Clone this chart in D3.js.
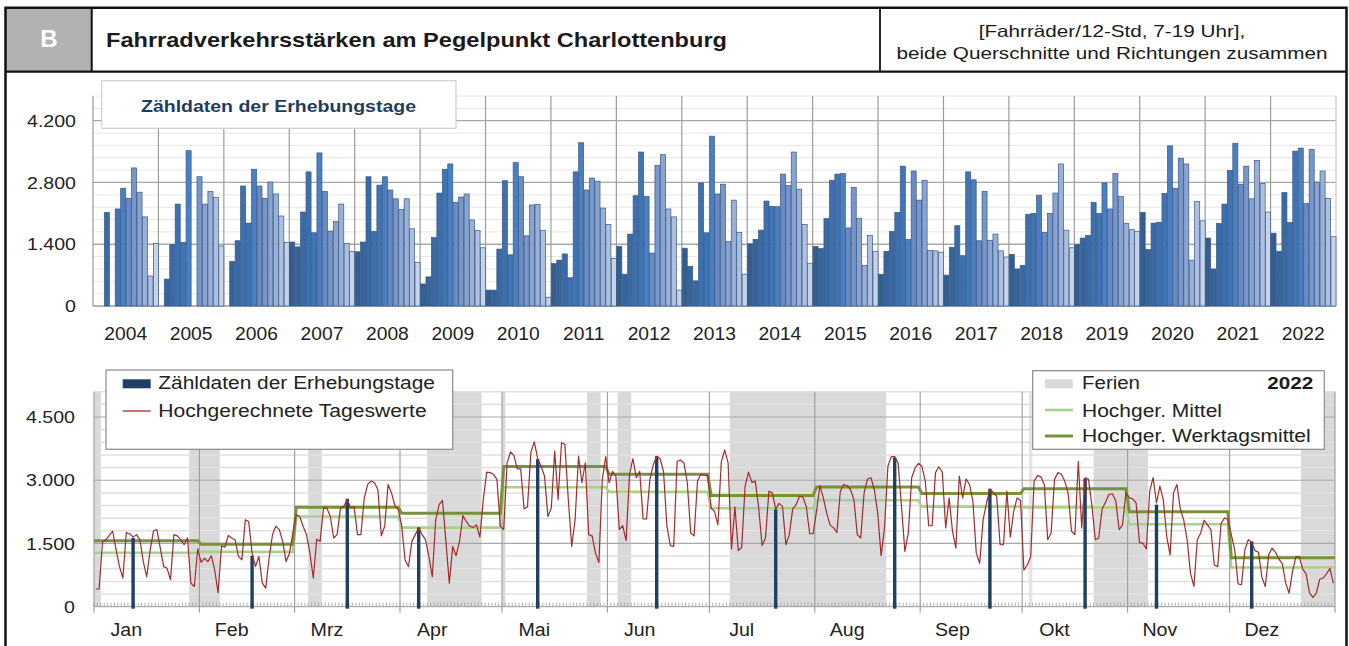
<!DOCTYPE html>
<html>
<head>
<meta charset="utf-8">
<script src="https://cdn.jsdelivr.net/npm/d3@7"></script>
<style>
	body { margin: 0; background: #fff; }
	svg { display: block; font-family: "Liberation Sans", Arial, sans-serif; }
</style>
</head>
<body>
<script>

// ---- Daten oben: Zähldaten der Erhebungstage, je Jahr Jan..Dez (null = keine Zählung)
var jahre = ['2004','2005','2006','2007','2008','2009','2010','2011','2012','2013',
	'2014','2015','2016','2017','2018','2019','2020','2021','2022'];

var j2004 = [null, null, 2120, null, 2200, 2670, 2440, 3130, 2580, 2020, 680, 1420];
var j2005 = [null, 610, 1390, 2310, 1440, 3520, null, 2930, 2310, 2600, 2460, 1360];
var j2006 = [null, 1010, 1480, 2720, 1880, 3100, 2720, 2440, 2810, 2540, 2040, 1440];
var j2007 = [1450, 1340, 2130, 3040, 1660, 3470, 2600, 1700, 1920, 2310, 1420, 1230];
var j2008 = [1230, 1450, 2930, 1690, 2740, 2930, 2630, 2430, 2190, 2430, 1750, 990];
var j2009 = [500, 660, 1550, 2560, 3100, 3220, 2350, 2470, 2540, 1950, 1710, 1320];
var j2010 = [360, 360, 1290, 2840, 1160, 3250, 2930, 1590, 2290, 2300, 1710, 200];
var j2011 = [960, 1040, 1180, 640, 3040, 3700, 2630, 2900, 2830, 2220, 1850, 1080];
var j2012 = [1350, 720, 1630, 2500, 3490, 2480, 1200, 3190, 3430, 2200, 2020, 360];
var j2013 = [1310, 900, 570, 2790, 1660, 3850, 2540, 2760, 1460, 2400, 1670, 720];
var j2014 = [1410, 1510, 1720, 2380, 2260, 2250, 2990, 2730, 3490, 2650, 1850, 970];
var j2015 = [1350, 1300, 1980, 2850, 2990, 3000, 1770, 2690, 1980, 920, 1600, 1240];
var j2016 = [720, 1240, 1690, 2120, 3170, 1510, 3060, 2400, 2850, 1260, 1250, 1220];
var j2017 = [700, 1330, 1820, 1140, 3040, 2860, 1480, 2600, 1490, 1630, 1250, 1110];
var j2018 = [1170, 840, 920, 2080, 2100, 2510, 1670, 2100, 2560, 3220, 1720, 1320];
var j2019 = [1390, 1540, 1600, 2350, 2100, 2790, 2200, 3000, 2480, 1870, 1730, 1690];
var j2020 = [2120, 1280, 1880, 1900, 2550, 3630, 2670, 3350, 3220, 1040, 2370, 1930];
var j2021 = [1540, 840, 1870, 2310, 3070, 3690, 2760, 3170, 2430, 3300, 2780, 2130];
var j2022 = [1650, 1240, 2570, 1890, 3510, 3580, 2320, 3550, 2810, 3060, 2440, 1570];

var jahresreihen = [j2004, j2005, j2006, j2007, j2008, j2009, j2010, j2011, j2012, j2013,
	j2014, j2015, j2016, j2017, j2018, j2019, j2020, j2021, j2022];

var yTicksOben = [0, 1400, 2800, 4200];

// ---- Daten unten: 2022
var monate = ['Jan','Feb','Mrz','Apr','Mai','Jun','Jul','Aug','Sep','Okt','Nov','Dez'];
var yTicksUnten = [0, 1500, 3000, 4500];

// hochgerechnete Tageswerte
var tJan = [420,420,1530,1590,1690,1790,1350,950,680,1760,1730,1650,1710,1590,1070,710,1330,1800,1830,1390,950,910,640,1710,1680,1590,1470,1630,560,480,1370];
var tFeb = [1050,1150,1070,1210,870,330,1440,1410,1690,1630,1590,1190,1110,2060,2020,1270,950,1190,560,440,1150,1710,1910,1830,1550,1070,1270,1750];
var tMrz = [2180,2140,1910,1710,1270,680,1600,1550,2340,2340,2140,1630,1710,2340,2380,2540,2340,2370,1710,1710,2580,2900,2980,2940,2780,1680,1910,2900,2700,2400,2300];
var tApr = [1910,1110,950,1550,1710,1870,1710,1590,1190,710,2060,2420,2520,1550,560,1430,1210,1550,2160,2020,1910,1880,1940,1650,2540,3190,3180,3140,3020,1910];
var tMai = [1830,3410,3670,3590,3270,3270,2320,2370,3670,3910,3510,3330,3100,2140,2340,3690,2540,3890,3850,2540,1430,2060,3570,2940,3410,1710,1680,1270,1050,3020,3560];
var tJun = [2940,3210,3100,1830,1920,1570,3140,3510,3060,3210,2080,2080,3020,3370,3570,3510,3210,1910,1450,1430,3450,3480,3410,2940,1750,1680,2980,3140,3120,3110];
var tJul = [2340,2260,1940,3430,3720,3410,1370,2370,1330,1410,2860,3190,2950,2980,2340,1450,1630,2740,2700,2320,2450,2380,1470,1710,2320,2420,2620,2600,2370,1730,1730];
var tAug = [2260,2870,2580,2220,1940,1870,1760,2740,2900,2870,2780,2540,1710,1630,2700,3030,3060,2780,2220,1210,1870,3330,3560,3560,3410,2380,1310,1750,3060,3290,3400];
var tSep = [3330,2980,1920,1920,3180,3320,3190,1870,2580,1790,1390,3100,2580,3030,2900,2500,1270,1030,2060,2460,2780,2710,2620,1470,1470,2740,1650,2260,2580,2520];
var tOkt = [870,990,1190,2980,3110,3080,2900,1590,1750,3020,3180,3140,2980,2700,1790,1710,3450,1870,3060,3020,2400,1590,1630,2320,2480,2660,2680,2520,1830,1940,2710];
var tNov = [2580,2560,2460,1520,1510,1370,2740,3060,2460,2860,2540,1670,1230,2700,2900,2320,2060,1590,790,480,1590,1750,2050,1940,1830,990,950,1980,2100,2080];
var tDez = [1710,1350,540,520,1350,1590,1520,1330,1290,700,480,1230,1390,1290,1130,1020,560,320,830,1190,1180,890,780,330,220,320,650,680,780,910,560];

// Monatsmittel (hochgerechnet)
var mittel = [1280, 1300, 2140, 1875, 2835, 2725, 2335, 2525, 2375, 2355, 1955, 930];
var werktagsmittel = [1565, 1480, 2360, 2215, 3325, 3140, 2640, 2838, 2685, 2800, 2255, 1160];

// Erhebungstage 2022
var zaehltage = ['2022-01-12','2022-02-16','2022-03-16','2022-04-06','2022-05-11','2022-06-15',
	'2022-07-20','2022-08-24','2022-09-21','2022-10-19','2022-11-09','2022-12-07'];
var zaehlwerte = [1630, 1210, 2560, 1880, 3500, 3570, 2310, 3540, 2800, 3040, 2420, 1550];

// Ferien (Ende exklusiv) und Feiertag
var ferien = [['2022-01-01','2022-01-03'], ['2022-01-29','2022-02-07'], ['2022-03-05','2022-03-09'],
	['2022-04-09','2022-04-25'], ['2022-05-01','2022-05-02'], ['2022-05-26','2022-05-30'],
	['2022-06-04','2022-06-08'], ['2022-07-07','2022-08-22'], ['2022-10-22','2022-11-07'],
	['2022-12-22','2023-01-01']];
var feiertage = [['2022-10-03','2022-10-04']];

// month colours, dark -> light
var monatsfarben = ['#335e8d','#36649b','#3a6aa6','#3d70ae','#3f75b5','#4a80c2',
	'#6a8bc2','#7896c9','#8aa4cf','#9bb0d7','#afc0df','#c7d3e8'];

var W = 1349, H = 646;
var de = d3.formatLocale({ decimal: ',', thousands: '.', grouping: [3], currency: ['', '€'] });
var fmt = de.format(',');
var parse = d3.timeParse('%Y-%m-%d');

// widen text a bit (source image is horizontally stretched)
function stretch(sel, k) {
	sel.each(function() {
		var len = this.getComputedTextLength();
		d3.select(this).attr('textLength', len * k).attr('lengthAdjust', 'spacingAndGlyphs');
	});
}
function fit(sel, w) {
	sel.attr('textLength', w).attr('lengthAdjust', 'spacingAndGlyphs');
}

var svg = d3.select('body').append('svg')
	.attr('width', W)
	.attr('height', H);

// ================= header =================
var frameL = 5.5, frameR = 1346.5, frameT = 7.7, headB = 71.7;

svg.append('rect')
	.attr('x', frameL).attr('y', frameT)
	.attr('width', 91.7 - frameL).attr('height', headB - frameT)
	.attr('fill', '#b2b2b2');

svg.append('text')
	.attr('x', 48.8).attr('y', 47)
	.attr('text-anchor', 'middle')
	.attr('font-size', 24).attr('font-weight', 'bold')
	.attr('fill', '#fff')
	.text('B');

svg.append('text')
	.attr('x', 106).attr('y', 47)
	.attr('font-size', 20.5).attr('font-weight', 'bold')
	.attr('fill', '#1a1a1a')
	.text('Fahrradverkehrsstärken am Pegelpunkt Charlottenburg')
	.call(fit, 621);

var unter = svg.append('text')
	.attr('x', 1112).attr('y', 59)
	.attr('text-anchor', 'middle')
	.attr('font-size', 16.5).attr('fill', '#1a1a1a')
	.text('beide Querschnitte und Richtungen zusammen');
var kHead = 431 / unter.node().getComputedTextLength();
unter.call(fit, 431);

svg.append('text')
	.attr('x', 1112).attr('y', 37)
	.attr('text-anchor', 'middle')
	.attr('font-size', 16.5).attr('fill', '#1a1a1a')
	.text('[Fahrräder/12-Std, 7-19 Uhr],')
	.call(stretch, kHead);

// frame lines
var frame = svg.append('g').attr('stroke', '#111').attr('fill', 'none');
frame.append('path')
	.attr('stroke-width', 2.5)
	.attr('d', 'M' + frameL + ',' + (H + 5) + 'V' + frameT + 'H' + frameR + 'V' + (H + 5));
frame.append('line')
	.attr('stroke-width', 2.2)
	.attr('x1', frameL).attr('x2', frameR).attr('y1', headB).attr('y2', headB);
frame.append('line')
	.attr('stroke-width', 2)
	.attr('x1', 91.7).attr('x2', 91.7).attr('y1', frameT).attr('y2', headB);
frame.append('line')
	.attr('stroke-width', 1.8)
	.attr('x1', 880).attr('x2', 880).attr('y1', frameT).attr('y2', headB);

// ================= oberes Diagramm =================
var top0 = 306, top1 = 96;
var xJahr = d3.scaleBand().domain(jahre).range([93, 1336]);
var xMon = d3.scaleBand().domain(d3.range(12)).range([0, xJahr.bandwidth()]);
var yOben = d3.scaleLinear().domain([0, 4760]).range([top0, top1]);

var gTop = svg.append('g');

// minor grid
gTop.append('g').selectAll('line')
	.data(d3.range(280, 4761, 280).filter(function(v) { return v % 1400 != 0; }))
	.enter().append('line')
		.attr('x1', 93).attr('x2', 1336)
		.attr('y1', function(d) { return yOben(d); })
		.attr('y2', function(d) { return yOben(d); })
		.attr('stroke', '#e6e6e6');

gTop.append('g').selectAll('line')
	.data(yTicksOben)
	.enter().append('line')
		.attr('x1', 93).attr('x2', 1336)
		.attr('y1', function(d) { return yOben(d); })
		.attr('y2', function(d) { return yOben(d); })
		.attr('stroke', function(d) { return d == 0 ? '#9a9a9a' : '#a8a8a8'; })
		.attr('stroke-width', 1.3);

// year separators
gTop.append('g').selectAll('line')
	.data(jahre.concat(['end']))
	.enter().append('line')
		.attr('x1', function(d) { return d == 'end' ? 1336 : xJahr(d); })
		.attr('x2', function(d) { return d == 'end' ? 1336 : xJahr(d); })
		.attr('y1', top1).attr('y2', top0)
		.attr('stroke', function(d) { return d == 'end' ? '#c8c8c8' : '#9c9c9c'; })
		.attr('stroke-width', 1.2);

var balken = [];
jahre.forEach(function(j, i) {
	jahresreihen[i].forEach(function(v, m) {
		if (v != null) balken.push({ jahr: j, monat: m, wert: v });
	});
});

gTop.append('g').selectAll('rect')
	.data(balken)
	.enter().append('rect')
		.attr('x', function(d) { return xJahr(d.jahr) + xMon(d.monat) + 0.4; })
		.attr('y', function(d) { return yOben(d.wert); })
		.attr('width', xMon.bandwidth() - 0.4)
		.attr('height', function(d) { return top0 - yOben(d.wert); })
		.attr('fill', function(d) { return monatsfarben[d.monat]; })
		.attr('stroke', '#36598a')
		.attr('stroke-width', 0.7);

// y labels
gTop.append('g').selectAll('text')
	.data(yTicksOben)
	.enter().append('text')
		.attr('x', 76)
		.attr('y', function(d) { return yOben(d); })
		.attr('dy', '0.36em')
		.attr('text-anchor', 'end')
		.attr('font-size', 17).attr('fill', '#222')
		.text(function(d) { return fmt(d); })
		.call(stretch, 1.15);

// year labels
gTop.append('g').selectAll('text')
	.data(jahre)
	.enter().append('text')
		.attr('x', function(d) { return xJahr(d) + xJahr.bandwidth() / 2; })
		.attr('y', 340)
		.attr('text-anchor', 'middle')
		.attr('font-size', 17.5).attr('fill', '#222')
		.text(function(d) { return d; })
		.call(stretch, 1.1);

// legend box
gTop.append('rect')
	.attr('x', 101.7).attr('y', 80.7)
	.attr('width', 354.3).attr('height', 47.6)
	.attr('fill', '#fff')
	.attr('stroke', '#cfcfcf').attr('stroke-width', 1.2);

gTop.append('text')
	.attr('x', 278.5).attr('y', 111.5)
	.attr('text-anchor', 'middle')
	.attr('font-size', 17).attr('font-weight', 'bold')
	.attr('fill', '#1f3d60')
	.text('Zähldaten der Erhebungstage')
	.call(fit, 275);

// ================= unteres Diagramm =================
var bot0 = 606.7, bot1 = 391.7;
var start = new Date(2022, 0, 1), ende = new Date(2023, 0, 1);
var x = d3.scaleTime().domain([start, ende]).range([94, 1335]);
var y = d3.scaleLinear().domain([0, 5100]).range([bot0, bot1]);

var tage = d3.timeDay.range(start, ende);
var tageswerte = [].concat(tJan, tFeb, tMrz, tApr, tMai, tJun, tJul, tAug, tSep, tOkt, tNov, tDez);
var tagesdaten = tage.map(function(t, i) { return { tag: t, wert: tageswerte[i] }; });

function mitte(t) { return d3.timeHour.offset(t, 12); }

var gBot = svg.append('g');

// Ferien
gBot.append('g').selectAll('rect')
	.data(ferien)
	.enter().append('rect')
		.attr('x', function(d) { return x(parse(d[0])); })
		.attr('width', function(d) { return x(parse(d[1])) - x(parse(d[0])); })
		.attr('y', bot1).attr('height', bot0 - bot1)
		.attr('fill', '#d9d9d9');

gBot.append('g').selectAll('rect')
	.data(feiertage)
	.enter().append('rect')
		.attr('x', function(d) { return x(parse(d[0])); })
		.attr('width', function(d) { return x(parse(d[1])) - x(parse(d[0])); })
		.attr('y', bot1).attr('height', bot0 - bot1)
		.attr('fill', '#e6e6e6');

// grid
gBot.append('g').selectAll('line')
	.data(d3.range(300, 5101, 300).filter(function(v) { return v % 1500 != 0; }))
	.enter().append('line')
		.attr('x1', 94).attr('x2', 1335)
		.attr('y1', function(d) { return y(d); })
		.attr('y2', function(d) { return y(d); })
		.attr('stroke', '#e0e0e0')
		.attr('stroke-width', 1.5);

gBot.append('g').selectAll('line')
	.data(yTicksUnten.slice(1))
	.enter().append('line')
		.attr('x1', 94).attr('x2', 1335)
		.attr('y1', function(d) { return y(d); })
		.attr('y2', function(d) { return y(d); })
		.attr('stroke', '#a8a8a8')
		.attr('stroke-width', 1.2);

// month separators
var monatsanfang = d3.timeMonth.range(start, d3.timeDay.offset(ende, 1));
gBot.append('g').selectAll('line')
	.data(monatsanfang)
	.enter().append('line')
		.attr('x1', function(d) { return x(d); })
		.attr('x2', function(d) { return x(d); })
		.attr('y1', bot1).attr('y2', bot0 + 6)
		.attr('stroke', '#9c9c9c')
		.attr('stroke-width', 1.1);

// axis + day ticks
gBot.append('line')
	.attr('x1', 94).attr('x2', 1335)
	.attr('y1', bot0).attr('y2', bot0)
	.attr('stroke', '#9a9a9a');

gBot.append('g').selectAll('line')
	.data(tage)
	.enter().append('line')
		.attr('x1', function(d) { return x(d); })
		.attr('x2', function(d) { return x(d); })
		.attr('y1', bot0 - 4).attr('y2', bot0)
		.attr('stroke', '#a0a0a0')
		.attr('stroke-width', 0.8);

// Monatsmittel als Stufen
function stufen(werte) {
	var pts = [];
	werte.forEach(function(v, m) {
		var a = new Date(2022, m, 1), b = new Date(2022, m + 1, 1);
		pts.push([m == 0 ? a : mitte(a), v]);
		pts.push([m == 11 ? b : d3.timeHour.offset(b, -12), v]);
	});
	return pts;
}

var stufenLinie = d3.line()
	.x(function(d) { return x(d[0]); })
	.y(function(d) { return y(d[1]); });

gBot.append('path')
	.attr('d', stufenLinie(stufen(mittel)))
	.attr('fill', 'none')
	.attr('stroke', '#a9d08e')
	.attr('stroke-width', 2.6);

gBot.append('path')
	.attr('d', stufenLinie(stufen(werktagsmittel)))
	.attr('fill', 'none')
	.attr('stroke', '#76933c')
	.attr('stroke-width', 3);

// Zähldaten der Erhebungstage
gBot.append('g').selectAll('rect')
	.data(zaehltage)
	.enter().append('rect')
		.attr('x', function(d) { return x(mitte(parse(d))) - 1.7; })
		.attr('width', 3.4)
		.attr('y', function(d, i) { return y(zaehlwerte[i]); })
		.attr('height', function(d, i) { return bot0 + 2 - y(zaehlwerte[i]); })
		.attr('fill', '#1f3f63');

// hochgerechnete Tageswerte
var tagLinie = d3.line()
	.x(function(d) { return x(mitte(d.tag)); })
	.y(function(d) { return y(d.wert); });

gBot.append('path')
	.attr('d', tagLinie(tagesdaten))
	.attr('fill', 'none')
	.attr('stroke', '#a52a2a')
	.attr('stroke-width', 1.2)
	.attr('stroke-linejoin', 'round');

// y labels
gBot.append('g').selectAll('text')
	.data(yTicksUnten)
	.enter().append('text')
		.attr('x', 75)
		.attr('y', function(d) { return y(d); })
		.attr('dy', '0.36em')
		.attr('text-anchor', 'end')
		.attr('font-size', 17).attr('fill', '#222')
		.text(function(d) { return fmt(d); })
		.call(stretch, 1.15);

// month labels
gBot.append('g').selectAll('text')
	.data(monate)
	.enter().append('text')
		.attr('x', function(d, i) { return x(new Date(2022, i, 10, 12)); })
		.attr('y', 636)
		.attr('text-anchor', 'middle')
		.attr('font-size', 17.5).attr('fill', '#222')
		.text(function(d) { return d; })
		.call(stretch, 1.12);

// legend left
var lg1 = gBot.append('g');
lg1.append('rect')
	.attr('x', 106).attr('y', 370)
	.attr('width', 346.7).attr('height', 79.3)
	.attr('fill', '#fff')
	.attr('stroke', '#8a8a8a').attr('stroke-width', 1.2);
lg1.append('rect')
	.attr('x', 122.7).attr('y', 379.3)
	.attr('width', 28).attr('height', 9)
	.attr('fill', '#1f3f63');
lg1.append('line')
	.attr('x1', 122.7).attr('x2', 150.7)
	.attr('y1', 411).attr('y2', 411)
	.attr('stroke', '#a52a2a').attr('stroke-width', 1.3);
lg1.append('text')
	.attr('x', 158.3).attr('y', 389.3)
	.attr('font-size', 17.5).attr('fill', '#222')
	.text('Zähldaten der Erhebungstage')
	.call(fit, 276.7);
lg1.append('text')
	.attr('x', 158.3).attr('y', 416.7)
	.attr('font-size', 17.5).attr('fill', '#222')
	.text('Hochgerechnete Tageswerte')
	.call(fit, 268.4);

// legend right
var lg2 = gBot.append('g');
lg2.append('rect')
	.attr('x', 1032.7).attr('y', 370.7)
	.attr('width', 291.6).attr('height', 78.6)
	.attr('fill', '#fff')
	.attr('stroke', '#8a8a8a').attr('stroke-width', 1.2);
lg2.append('rect')
	.attr('x', 1045).attr('y', 379.3)
	.attr('width', 27.7).attr('height', 9)
	.attr('fill', '#d9d9d9');
lg2.append('line')
	.attr('x1', 1045).attr('x2', 1073)
	.attr('y1', 410).attr('y2', 410)
	.attr('stroke', '#a9d08e').attr('stroke-width', 2.6);
lg2.append('line')
	.attr('x1', 1045).attr('x2', 1073)
	.attr('y1', 436).attr('y2', 436)
	.attr('stroke', '#76933c').attr('stroke-width', 3);
lg2.append('text')
	.attr('x', 1082).attr('y', 389)
	.attr('font-size', 17.5).attr('fill', '#222')
	.text('Ferien')
	.call(fit, 58);
lg2.append('text')
	.attr('x', 1313.3).attr('y', 389)
	.attr('text-anchor', 'end')
	.attr('font-size', 17).attr('font-weight', 'bold').attr('fill', '#1a1a1a')
	.text('2022')
	.call(fit, 46);
lg2.append('text')
	.attr('x', 1082).attr('y', 416.5)
	.attr('font-size', 17.5).attr('fill', '#222')
	.text('Hochger. Mittel')
	.call(fit, 140);
lg2.append('text')
	.attr('x', 1082).attr('y', 441.5)
	.attr('font-size', 17.5).attr('fill', '#222')
	.text('Hochger. Werktagsmittel')
	.call(fit, 228.7);

</script>
</body>
</html>
